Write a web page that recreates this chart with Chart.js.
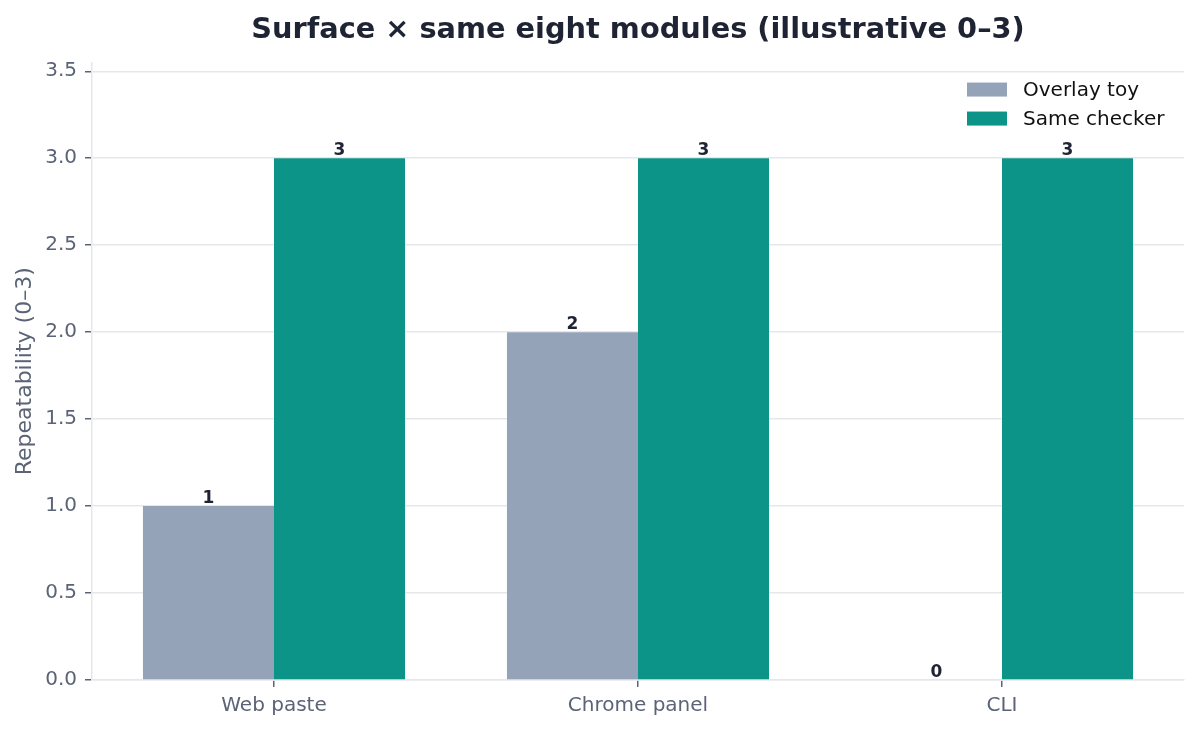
<!DOCTYPE html>
<html>
<head>
<meta charset="utf-8">
<script src="https://cdn.jsdelivr.net/npm/chart.js@4/dist/chart.umd.min.js"></script>
<style>
  html, body { margin: 0; padding: 0; background: #fff; }
  #wrap { width: 1199px; height: 731px; }
</style>
</head>
<body>
<div id="wrap"><canvas id="chart" width="1199" height="731"></canvas></div>
<script>
// Chart data
const categories = ['Web paste', 'Chrome panel', 'CLI'];
const overlayToy = [1, 2, 0];
const sameChecker = [3, 3, 3];
const seriesLabels = ['Overlay toy', 'Same checker'];
const yTicks = [0, 0.5, 1.0, 1.5, 2.0, 2.5, 3.0, 3.5];

const FONT = "'DejaVu Sans', sans-serif";
const TICK_COLOR = '#5b6477';
const GRID_COLOR = '#e5e7eb';
const INK = '#1e2433';

// Value labels above each bar
const barLabels = {
  id: 'barLabels',
  afterDatasetsDraw(chart) {
    const ctx = chart.ctx;
    ctx.save();
    ctx.font = 'bold 17px ' + FONT;
    ctx.fillStyle = INK;
    ctx.textAlign = 'center';
    ctx.textBaseline = 'alphabetic';
    chart.data.datasets.forEach((ds, i) => {
      chart.getDatasetMeta(i).data.forEach((bar, j) => {
        ctx.fillText(String(ds.data[j]), bar.x, bar.y - 3);
      });
    });
    ctx.restore();
  }
};

// Legend drawn inside the plot, top right
const insideLegend = {
  id: 'insideLegend',
  afterDraw(chart) {
    const ctx = chart.ctx;
    const area = chart.chartArea;
    ctx.save();
    ctx.font = '20px ' + FONT;
    ctx.textBaseline = 'middle';
    ctx.textAlign = 'left';
    const x0 = area.right - 217;
    chart.data.datasets.forEach((ds, i) => {
      const y = area.top + 27 + i * 29;
      ctx.fillStyle = ds.backgroundColor;
      ctx.fillRect(x0, y - 7, 40, 14);
      ctx.fillStyle = '#111';
      ctx.fillText(ds.label, x0 + 56, y + 1);
    });
    ctx.restore();
  }
};

const ctx = document.getElementById('chart').getContext('2d');
new Chart(ctx, {
  type: 'bar',
  data: {
    labels: categories,
    datasets: [
      {
        label: seriesLabels[0],
        data: overlayToy,
        backgroundColor: '#94a3b8',
        categoryPercentage: 0.72,
        barPercentage: 1.0
      },
      {
        label: seriesLabels[1],
        data: sameChecker,
        backgroundColor: '#0d9488',
        categoryPercentage: 0.72,
        barPercentage: 1.0
      }
    ]
  },
  options: {
    responsive: false,
    animation: false,
    layout: { padding: { left: 0, right: 15, top: 0, bottom: 0 } },
    plugins: {
      legend: { display: false },
      tooltip: { enabled: false },
      title: {
        display: true,
        text: 'Surface × same eight modules (illustrative 0–3)',
        color: INK,
        font: { family: FONT, size: 28.8, weight: 'bold', lineHeight: 1.2 },
        padding: { top: 13, bottom: 15 },
        fullSize: false
      }
    },
    scales: {
      x: {
        offset: true,
        grid: {
          offset: false,
          drawOnChartArea: false,
          color: GRID_COLOR,
          tickColor: TICK_COLOR,
          tickLength: 7,
          lineWidth: 1.5
        },
        border: { color: GRID_COLOR, width: 1.5 },
        ticks: { color: TICK_COLOR, font: { family: FONT, size: 20 }, padding: 7 },
        afterFit(scale) { scale.height = 51; }
      },
      y: {
        min: 0,
        max: 3.55,
        grid: {
          color: GRID_COLOR,
          tickColor: TICK_COLOR,
          tickLength: 7,
          lineWidth: 1.5
        },
        border: { color: GRID_COLOR, width: 1.5 },
        ticks: {
          color: TICK_COLOR,
          font: { family: FONT, size: 20 },
          padding: 8,
          callback: v => v.toFixed(1)
        },
        afterBuildTicks(scale) {
          scale.ticks = yTicks.map(v => ({ value: v }));
        },
        title: {
          display: true,
          text: 'Repeatability (0–3)',
          color: TICK_COLOR,
          font: { family: FONT, size: 22 },
          padding: { top: 12, bottom: 0 }
        },
        afterFit(scale) { scale.width = 92; }
      }
    }
  },
  plugins: [barLabels, insideLegend]
});
</script>
</body>
</html>
